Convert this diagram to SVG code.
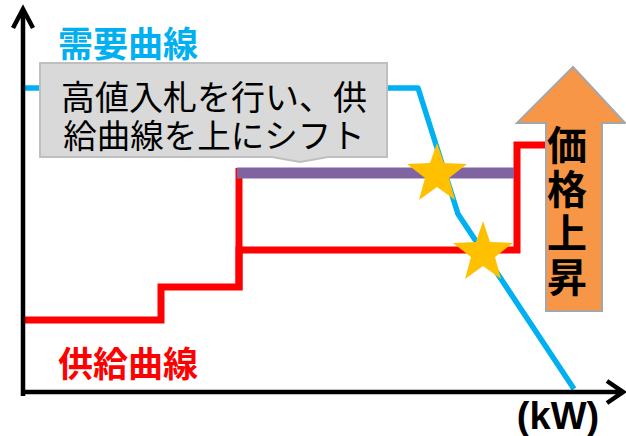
<svg xmlns="http://www.w3.org/2000/svg" width="626" height="436" viewBox="0 0 626 436">
<style>
.ax{fill:none;stroke:#000;stroke-width:4.5;stroke-linejoin:miter}
.red{fill:none;stroke:#FF0000;stroke-width:7;stroke-linejoin:miter}
.blue{fill:none;stroke:#00B0F0;stroke-width:5.5;stroke-linejoin:round}
.star{fill:#FFC000}
.jp{font-family:"Noto Sans CJK JP","Noto Sans",sans-serif}
</style>
<rect width="626" height="436" fill="#fff"/>
<g id="connectors">
<path class="blue" d="M25,88 H418 L458,214 L574,389"/>
<path class="red" d="M23,320 H161 V287 H239 V250 H517 V145 H548"/>
<path class="red" d="M239,290 V168"/>
<path d="M237,173 H514" stroke="#8064A2" stroke-width="11" fill="none"/>
<path class="ax" d="M23,396 V10 M13,28 L23,9 L33,28"/>
<path class="ax" d="M21,392 H622 M607,381 L623,392 L607,403"/>
</g>
<g id="callout">
<polygon points="40,63 387,63 387,157 328,157 300,162 272,157 40,157" fill="#D9D9D9" stroke="#BFBFBF" stroke-width="2"/>
<text class="jp" font-size="34" text-anchor="middle" fill="#000"><tspan x="214" y="110">高値入札を行い、供</tspan><tspan x="214" y="148" font-size="33.5">給曲線を上にシフト</tspan></text>
</g>
<g id="demand-label">
<text class="jp" x="58" y="57" font-size="35" font-weight="bold" fill="#00B0F0">需要曲線</text>
</g>
<g id="supply-label">
<text class="jp" x="58" y="377" font-size="35" font-weight="bold" fill="#FF0000">供給曲線</text>
</g>
<g id="unit-label">
<text font-family="Liberation Sans,Arial,sans-serif" x="558" y="429" font-size="38" font-weight="bold" text-anchor="middle" fill="#000">(kW)</text>
</g>
<g id="star1"><polygon class="star" points="437,143 444,163 467,164 449,178 455,200 437,187 419,200 425,178 407,164 430,163"/></g>
<g id="star2"><polygon class="star" points="483,221 490,242 513,243 495,257 501,279 483,266 465,279 471,257 453,243 476,242"/></g>
<g id="price-arrow">
<polygon points="546,311 546,123 517,123 573,67 625,123 602,123 602,311" fill="#F79646" stroke="#A6A6A6" stroke-width="2"/>
<text class="jp" x="567" y="125" font-size="40" font-weight="bold" fill="#000" writing-mode="vertical-rl" letter-spacing="4">価格上昇</text>
</g>
</svg>
